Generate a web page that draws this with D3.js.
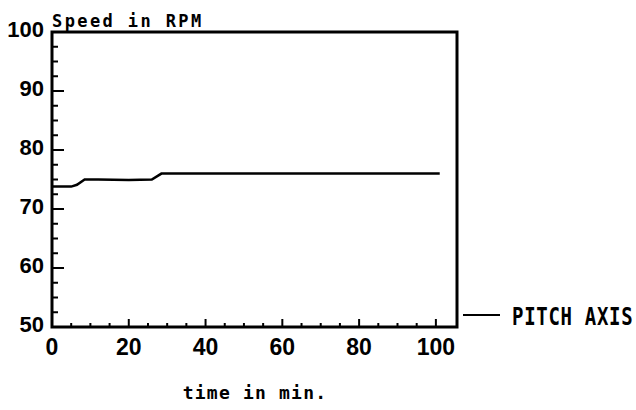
<!DOCTYPE html>
<html>
<head>
<meta charset="utf-8">
<script src="https://cdn.jsdelivr.net/npm/d3@7"></script>
<style>
  body { margin: 0; background: #fff; }
  text { fill: #000; }
</style>
</head>
<body>
<div id="viz"></div>
<script>
// pitch axis speed trace
const timeMin = [0, 5, 6.5, 8.5, 12, 20, 26, 28.5, 40, 60, 80, 101];
const speedRpm = [73.8, 73.8, 74.1, 75, 75, 74.9, 75, 76, 76, 76, 76, 76];
const yTicks = [50, 60, 70, 80, 90, 100];
const xTicks = [0, 20, 40, 60, 80, 100];
const seriesName = "PITCH AXIS";

const width = 636, height = 410;
const margin = { left: 52, top: 32, right: 179, bottom: 83 };

const svg = d3.select("#viz").append("svg")
    .attr("width", width)
    .attr("height", height);

const x = d3.scaleLinear().domain([0, 105.5]).range([margin.left, width - margin.right]);
const y = d3.scaleLinear().domain([50, 100]).range([height - margin.bottom, margin.top]);

// frame
svg.append("rect")
    .attr("x", x(0))
    .attr("y", y(100))
    .attr("width", x(105.5) - x(0))
    .attr("height", y(50) - y(100))
    .attr("fill", "none")
    .attr("stroke", "#000")
    .attr("stroke-width", 3);

// minor ticks
const yMinor = d3.range(50, 100.1, 2.5);
svg.selectAll(".ymin").data(yMinor).enter().append("line")
    .attr("x1", x(0)).attr("x2", d => x(0) + (d % 10 === 0 ? 12 : 6))
    .attr("y1", d => y(d)).attr("y2", d => y(d))
    .attr("stroke", "#000").attr("stroke-width", 2);

const xMinor = d3.range(0, 100.1, 5);
svg.selectAll(".xmin").data(xMinor).enter().append("line")
    .attr("x1", d => x(d)).attr("x2", d => x(d))
    .attr("y1", y(50)).attr("y2", d => y(50) - (d % 20 === 0 ? 8 : 4))
    .attr("stroke", "#000").attr("stroke-width", 2);

// tick labels
svg.selectAll(".ylab").data(yTicks).enter().append("text")
    .attr("x", x(0) - 8)
    .attr("y", d => y(d) + 5)
    .attr("text-anchor", "end")
    .attr("font-family", "Liberation Sans, Arial, sans-serif")
    .attr("font-weight", "bold")
    .attr("font-size", "22px")
    .text(d => d);

svg.selectAll(".xlab").data(xTicks).enter().append("text")
    .attr("x", d => x(d))
    .attr("y", y(50) + 28)
    .attr("text-anchor", "middle")
    .attr("font-family", "Liberation Sans, Arial, sans-serif")
    .attr("font-weight", "bold")
    .attr("font-size", "23px")
    .text(d => d);

// series
const line = d3.line()
    .x((d, i) => x(timeMin[i]))
    .y(d => y(d));

svg.append("path")
    .datum(speedRpm)
    .attr("d", line)
    .attr("fill", "none")
    .attr("stroke", "#000")
    .attr("stroke-width", 2.5);

// titles
svg.append("text")
    .attr("x", x(0))
    .attr("y", 27)
    .attr("font-family", "DejaVu Sans Mono, monospace")
    .attr("font-weight", "bold")
    .attr("font-size", "17px")
    .attr("letter-spacing", "2.4px")
    .text("Speed in RPM");

svg.append("text")
    .attr("x", 255)
    .attr("y", 399)
    .attr("text-anchor", "middle")
    .attr("font-family", "DejaVu Sans Mono, monospace")
    .attr("font-weight", "bold")
    .attr("font-size", "18px")
    .attr("letter-spacing", "1.2px")
    .text("time in min.");

// legend
svg.append("line")
    .attr("x1", 463).attr("x2", 500)
    .attr("y1", 315).attr("y2", 315)
    .attr("stroke", "#000").attr("stroke-width", 2);

svg.append("text")
    .attr("transform", "translate(512,325) scale(1,1.3)")
    .attr("font-family", "DejaVu Sans Mono, monospace")
    .attr("font-weight", "bold")
    .attr("font-size", "19px")
    .attr("letter-spacing", "0.7px")
    .text(seriesName);
</script>
</body>
</html>
